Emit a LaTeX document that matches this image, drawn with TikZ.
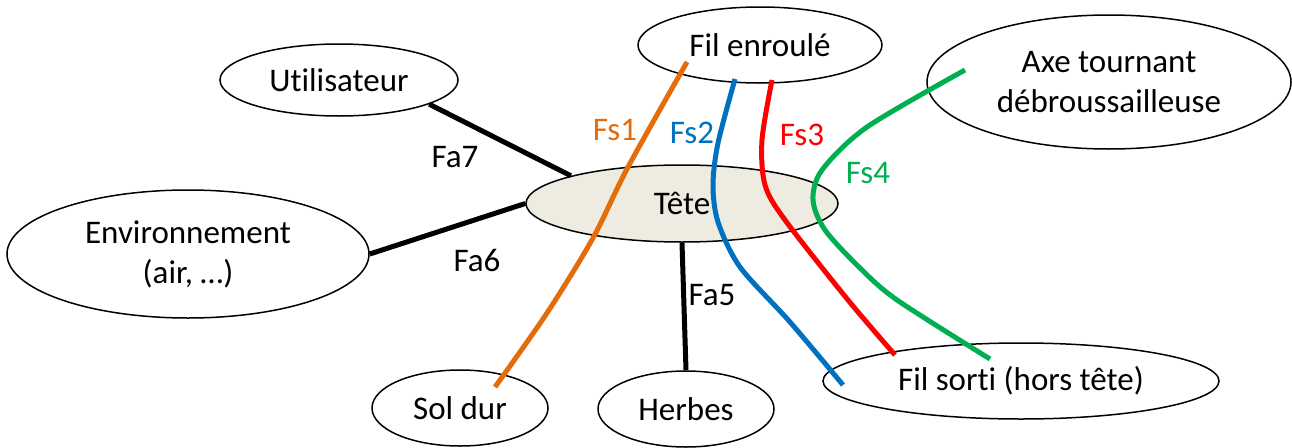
\documentclass[tikz,border=0pt]{standalone}
\usepackage{fontspec}
\setmainfont{Carlito}[Ligatures=NoCommon]
\usepackage{tikz}
\usetikzlibrary{shapes.geometric}
\definecolor{fsorange}{HTML}{E46C0A}
\definecolor{fsblue}{HTML}{0070C0}
\definecolor{fsred}{HTML}{FF0000}
\definecolor{fsgreen}{HTML}{00B050}
\definecolor{tetefill}{HTML}{EEECE1}
\tikzset{
    bulle/.style={
        ellipse,
        draw=black, % 边框黑色
        fill=white,
        line width=1.5pt,
        inner sep=0,
        align=center
    },
    tetenode/.style={
        bulle,
        fill=tetefill % 头部填充
    },
    fa/.style={
        draw=black,
        line width=5pt
    },
    fs/.style={
        line width=5pt % 彩色曲线
    }
}

\begin{document}
\begin{tikzpicture}[
                x=1pt, y=-1pt,
                every node/.style={
                    font=\fontsize{33}{40}\selectfont
                }
            ]
            \useasboundingbox (0,0) rectangle (1292,447);
            % ellipses
            \node[bulle, minimum width=238pt, minimum height=72pt] (user) at (339,80) {Utilisateur};
            \node[bulle, minimum width=362pt, minimum height=128pt] (env) at (188,254) {Environnement\\(air, …)};
            \node[tetenode, minimum width=312pt, minimum height=77pt] (tete) at (682,203.5) {Tête};
            \node[bulle, minimum width=244pt, minimum height=76pt] (enroule) at (760,45) {Fil enroulé};
            \node[bulle, minimum width=364pt, minimum height=134pt] (axe) at (1109,82) {Axe tournant\\débroussailleuse};
            \node[bulle, minimum width=396pt, minimum height=76pt] (sorti) at (1021,381) {Fil sorti (hors tête)};
            \node[bulle, minimum width=176pt, minimum height=76pt] (sol) at (460,408) {Sol dur};
            \node[bulle, minimum width=176pt, minimum height=76pt] (herbes) at (686,409) {Herbes};
            % Fa
            \draw[fa] (user.-15) -- (tete.166);
            \draw[fa] (env.east) -- (tete.west);
            \draw[fa] (tete.south) -- (herbes.north);
            \node (fa7) at (455,157) {Fa7};
            \node (fa6) at (477,260) {Fa6};
            \node (fa5) at (712,295) {Fa5};
            % Fs
            \coordinate (fs1a) at (687,62);
            \coordinate (fs1b) at (495,387);
            \coordinate (fs2a) at (735,79);
            \coordinate (fs2b) at (843,385);
            \coordinate (fs3a) at (772,80);
            \coordinate (fs3b) at (895,355);
            \coordinate (fs4a) at (965,70);
            \coordinate (fs4b) at (990,359);
            \draw[fs, fsorange] plot[smooth] coordinates {(fs1a) (628,167) (593,238) (547,313) (fs1b)};
            \draw[fs, fsblue] plot[smooth] coordinates {(fs2a) (718,143) (713,185) (718,222) (740,267) (790,322) (fs2b)};
            \draw[fs, fsred] plot[smooth] coordinates {(fs3a) (762,140) (765,185) (785,220) (848,300) (fs3b)};
            \draw[fs, fsgreen] plot[smooth] coordinates {(fs4a) (867,127) (822,170) (813,200) (825,230) (860,268) (897,300) (fs4b)};
            \node[fsorange] (fs1) at (615,130) {Fs1};
            \node[fsblue] (fs2) at (692,133) {Fs2};
            \node[fsred] (fs3) at (802,135) {Fs3};
            \node[fsgreen] (fs4) at (868,173) {Fs4};
\end{tikzpicture}
\end{document}
